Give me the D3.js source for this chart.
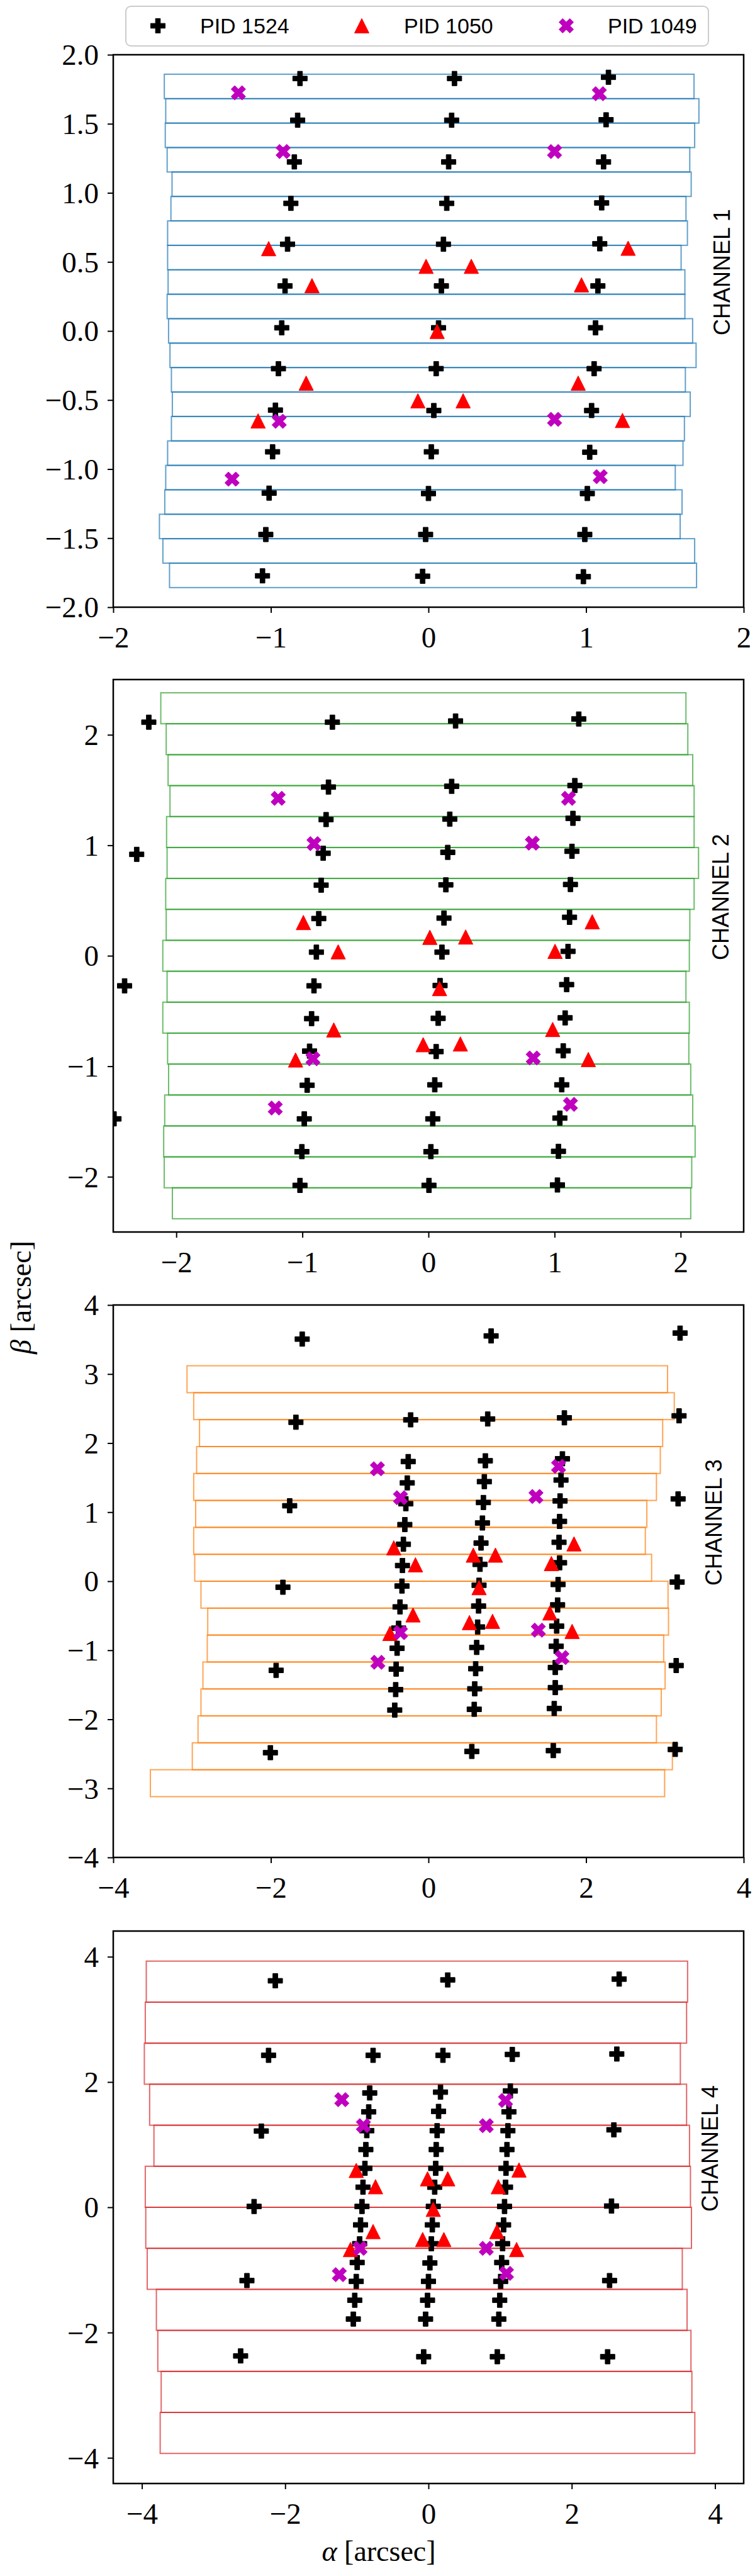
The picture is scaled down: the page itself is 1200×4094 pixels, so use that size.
<!DOCTYPE html>
<html><head><meta charset="utf-8">
<script src="https://cdn.jsdelivr.net/npm/d3@7"></script>
<style>body{margin:0;background:#fff}</style>
</head><body>
<svg id="fig" width="1200" height="4094" xmlns="http://www.w3.org/2000/svg"></svg>
<script>
// ---------------- DATA ----------------
const channelNames = ["CHANNEL 1", "CHANNEL 2", "CHANNEL 3", "CHANNEL 4"];
const legendLabels = ["PID 1524", "PID 1050", "PID 1049"];
const sliceColors = ["#1f77b4", "#2ca02c", "#ff7f0e", "#d62728"];

const xDomains = [[-2, 2], [-2.5, 2.5], [-4, 4], [-4.4, 4.4]];
const yDomains = [[-2, 2], [-2.5, 2.5], [-4, 4], [-4.41, 4.41]];
const xTicks1 = [-2, -1, 0, 1, 2];
const yTicks1 = [-2, -1.5, -1, -0.5, 0, 0.5, 1, 1.5, 2];
const xTicks2 = [-2, -1, 0, 1, 2];
const yTicks2 = [-2, -1, 0, 1, 2];
const xTicks3 = [-4, -2, 0, 2, 4];
const yTicks3 = [-4, -3, -2, -1, 0, 1, 2, 3, 4];
const xTicks4 = [-4, -2, 0, 2, 4];
const yTicks4 = [-4, -2, 0, 2, 4];

// slice boundaries (beta, arcsec), top to bottom
const ch1Edges = [1.859, 1.682, 1.505, 1.328, 1.151, 0.974, 0.797, 0.620, 0.443, 0.266, 0.089, -0.088, -0.265, -0.442, -0.619, -0.796, -0.973, -1.150, -1.327, -1.504, -1.681, -1.858];
const ch2Edges = [2.38, 2.10, 1.82, 1.54, 1.26, 0.98, 0.70, 0.42, 0.14, -0.14, -0.42, -0.70, -0.98, -1.26, -1.54, -1.82, -2.10, -2.38];
const ch3Edges = [3.12, 2.73, 2.34, 1.95, 1.56, 1.17, 0.78, 0.39, 0, -0.39, -0.78, -1.17, -1.56, -1.95, -2.34, -2.73, -3.12];
const ch4Edges = [3.93, 3.275, 2.62, 1.965, 1.31, 0.655, 0, -0.655, -1.31, -1.965, -2.62, -3.275, -3.93];

// slice alpha extents (left / right), top to bottom
const ch1Left = [-1.676, -1.667, -1.670, -1.658, -1.627, -1.634, -1.655, -1.655, -1.652, -1.658, -1.649, -1.640, -1.631, -1.625, -1.631, -1.655, -1.667, -1.673, -1.707, -1.685, -1.643];
const ch1Right = [1.685, 1.716, 1.689, 1.658, 1.667, 1.634, 1.643, 1.603, 1.627, 1.627, 1.676, 1.698, 1.630, 1.661, 1.624, 1.615, 1.566, 1.609, 1.597, 1.689, 1.701];
const ch2Left = [-2.123, -2.080, -2.065, -2.050, -2.077, -2.073, -2.084, -2.080, -2.107, -2.073, -2.107, -2.069, -2.061, -2.092, -2.100, -2.096, -2.031];
const ch2Right = [2.042, 2.057, 2.096, 2.107, 2.107, 2.142, 2.107, 2.073, 2.069, 2.042, 2.069, 2.065, 2.080, 2.096, 2.115, 2.088, 2.080];
const ch3Left = [-3.064, -2.979, -2.905, -2.942, -2.979, -2.954, -2.979, -2.966, -2.887, -2.801, -2.807, -2.862, -2.887, -2.924, -2.997, -3.529];
const ch3Right = [3.034, 3.119, 2.972, 2.942, 2.893, 2.771, 2.752, 2.832, 3.040, 3.046, 2.985, 3.003, 2.954, 2.893, 3.095, 2.997];
const ch4Left = [-3.939, -3.953, -3.966, -3.892, -3.832, -3.953, -3.946, -3.926, -3.798, -3.778, -3.731, -3.745];
const ch4Right = [3.617, 3.603, 3.516, 3.603, 3.644, 3.657, 3.671, 3.543, 3.610, 3.664, 3.677, 3.718];

// PID 1524 pointings
const ch1P1524Alpha = [-0.815, 0.165, 1.142, -0.830, 0.147, 1.127, -0.851, 0.128, 1.111, -0.873, 0.116, 1.099, -0.894, 0.095, 1.087, -0.910, 0.082, 1.075, -0.931, 0.064, 1.060, -0.952, 0.049, 1.051, -0.971, 0.034, 1.035, -0.989, 0.018, 1.023, -1.011, 0.000, 1.008, -1.032, -0.018, 0.992, -1.053, -0.037, 0.983];
const ch1P1524Beta = [1.828, 1.828, 1.837, 1.526, 1.526, 1.529, 1.224, 1.224, 1.224, 0.924, 0.924, 0.927, 0.628, 0.628, 0.631, 0.326, 0.326, 0.326, 0.023, 0.023, 0.023, -0.273, -0.273, -0.273, -0.573, -0.576, -0.576, -0.875, -0.875, -0.878, -1.174, -1.177, -1.177, -1.474, -1.474, -1.474, -1.773, -1.776, -1.779];
const ch2P1524Alpha = [-2.218, -2.314, -2.410, -2.494, -0.762, 0.215, 1.192, -0.793, 0.184, 1.161, -0.812, 0.169, 1.146, -0.835, 0.153, 1.138, -0.851, 0.138, 1.126, -0.870, 0.123, 1.119, -0.889, 0.107, 1.107, -0.908, 0.092, 1.096, -0.927, 0.077, 1.084, -0.943, 0.061, 1.069, -0.962, 0.050, 1.057, -0.985, 0.034, 1.042, -1.004, 0.019, 1.031, -1.019, 0.004, 1.023];
const ch2P1524Beta = [2.114, 0.918, -0.272, -1.476, 2.114, 2.125, 2.143, 1.527, 1.534, 1.541, 1.233, 1.237, 1.244, 0.928, 0.936, 0.946, 0.639, 0.642, 0.645, 0.337, 0.341, 0.348, 0.033, 0.033, 0.040, -0.272, -0.269, -0.261, -0.569, -0.566, -0.562, -0.863, -0.867, -0.860, -1.172, -1.168, -1.168, -1.476, -1.476, -1.469, -1.773, -1.773, -1.770, -2.078, -2.078, -2.075];
const ch3P1524Alpha = [-1.602, 0.795, 3.193, -1.682, -0.226, 0.752, 1.725, 3.180, -0.257, 0.722, 1.700, -0.269, 0.709, 1.682, -0.287, 0.697, 1.670, -0.300, 0.685, 1.664, -0.318, 0.667, 1.657, -0.330, 0.654, 1.664, -0.336, 0.642, 1.645, -0.361, 0.636, 1.639, -0.379, 0.624, 1.627, -0.398, 0.612, 1.621, -0.410, 0.599, 1.609, -0.416, 0.587, 1.609, -0.428, 0.581, 1.596, -1.761, -1.847, -1.933, -2.006, 0.550, 1.584, 3.131, 3.168, 3.156, 3.144];
const ch3P1524Beta = [3.506, 3.552, 3.593, 2.302, 2.337, 2.349, 2.366, 2.395, 1.733, 1.744, 1.773, 1.424, 1.442, 1.465, 1.122, 1.140, 1.163, 0.820, 0.843, 0.866, 0.535, 0.552, 0.564, 0.227, 0.244, 0.267, -0.070, -0.058, -0.047, -0.372, -0.360, -0.343, -0.680, -0.663, -0.651, -0.971, -0.959, -0.942, -1.273, -1.267, -1.250, -1.570, -1.558, -1.541, -1.866, -1.855, -1.843, 1.093, -0.087, -1.291, -2.483, -2.465, -2.453, -2.436, 1.192, -0.012, -1.221];
const ch4P1524Alpha = [-2.138, 0.269, 2.662, -2.232, -0.773, 0.202, 1.170, 2.629, -0.820, 0.168, 1.143, -0.834, 0.141, 1.123, -0.861, 0.121, 1.109, -0.874, 0.108, 1.096, -0.887, 0.101, 1.082, -0.914, 0.087, 1.076, -0.928, 0.067, 1.062, -0.948, 0.054, 1.049, -0.961, 0.040, 1.035, -0.995, 0.020, 1.022, -1.008, 0.000, 1.008, -1.029, -0.013, 0.995, -1.049, -0.040, 0.982, -2.333, 2.588, -2.434, 2.555, -2.534, 2.528, -2.622, -0.067, 0.961, 2.501];
const ch4P1524Beta = [3.616, 3.630, 3.643, 2.426, 2.426, 2.426, 2.440, 2.447, 1.825, 1.838, 1.858, 1.524, 1.531, 1.524, 1.223, 1.223, 1.223, 0.922, 0.922, 0.922, 0.622, 0.622, 0.622, 0.321, 0.321, 0.321, 0.013, 0.013, 0.013, -0.281, -0.281, -0.281, -0.582, -0.582, -0.582, -0.882, -0.889, -0.882, -1.183, -1.183, -1.183, -1.484, -1.484, -1.484, -1.785, -1.785, -1.785, 1.217, 1.237, 0.013, 0.020, -1.170, -1.170, -2.373, -2.386, -2.386, -2.386];

// PID 1050 pointings
const ch1P1050Alpha = [-1.014, -0.015, 0.272, 1.267, -0.739, 0.971, 0.055, -0.776, 0.950, -0.067, 0.220, -1.081, 1.231];
const ch1P1050Beta = [0.596, 0.468, 0.468, 0.599, 0.328, 0.334, -0.003, -0.378, -0.378, -0.506, -0.506, -0.651, -0.648];
const ch2P1050Alpha = [-0.992, 0.011, 0.295, 1.299, -0.716, 1.004, 0.088, -0.751, 0.985, -0.042, 0.253, -1.054, 1.268];
const ch2P1050Beta = [0.301, 0.167, 0.170, 0.308, 0.036, 0.040, -0.297, -0.671, -0.667, -0.805, -0.798, -0.943, -0.939];
const ch3P1050Alpha = [-0.440, -0.165, 0.569, 0.850, 1.560, 1.847, 0.642, -0.196, 1.541, 0.520, 0.813, -0.489, 1.823];
const ch3P1050Beta = [0.483, 0.238, 0.378, 0.378, 0.256, 0.541, -0.093, -0.488, -0.459, -0.599, -0.581, -0.756, -0.727];
const ch4P1050Alpha = [-1.008, -0.739, -0.013, 0.269, 0.975, 1.264, 0.067, -0.773, 0.955, -0.081, 0.215, -1.089, 1.230];
const ch4P1050Beta = [0.588, 0.328, 0.455, 0.455, 0.328, 0.595, -0.033, -0.388, -0.388, -0.515, -0.515, -0.675, -0.675];

// PID 1049 pointings
const ch1P1049Alpha = [-1.206, 1.084, -0.922, 0.800, -0.947, 0.800, -1.246, 1.090];
const ch1P1049Beta = [1.724, 1.718, 1.299, 1.299, -0.654, -0.640, -1.073, -1.055];
const ch2P1049Alpha = [-1.192, 1.111, -0.908, 0.824, -0.916, 0.831, -1.215, 1.126];
const ch2P1049Beta = [1.425, 1.425, 1.015, 1.019, -0.932, -0.925, -1.378, -1.345];
const ch3P1049Alpha = [-0.648, 1.651, -0.355, 1.364, -0.355, 1.394, -0.642, 1.694];
const ch3P1049Beta = [1.628, 1.663, 1.209, 1.227, -0.744, -0.709, -1.174, -1.105];
const ch4P1049Alpha = [-1.210, 1.076, -0.908, 0.807, -0.955, 0.807, -1.244, 1.089];
const ch4P1049Beta = [1.718, 1.705, 1.303, 1.303, -0.655, -0.655, -1.076, -1.056];

// ---------------- ASSEMBLY ----------------
const zip = (a, b) => a.map((v, i) => ({a: v, b: b[i]}));
const panels = [
  {name: channelNames[0], color: sliceColors[0], xd: xDomains[0], yd: yDomains[0], xt: xTicks1, yt: yTicks1, yfmt: d3.format(".1f"),
   edges: ch1Edges, left: ch1Left, right: ch1Right,
   p1524: zip(ch1P1524Alpha, ch1P1524Beta), p1050: zip(ch1P1050Alpha, ch1P1050Beta), p1049: zip(ch1P1049Alpha, ch1P1049Beta), labDx: 35},
  {name: channelNames[1], color: sliceColors[1], xd: xDomains[1], yd: yDomains[1], xt: xTicks2, yt: yTicks2, yfmt: d3.format("d"),
   edges: ch2Edges, left: ch2Left, right: ch2Right,
   p1524: zip(ch2P1524Alpha, ch2P1524Beta), p1050: zip(ch2P1050Alpha, ch2P1050Beta), p1049: zip(ch2P1049Alpha, ch2P1049Beta), labDx: 37},
  {name: channelNames[2], color: sliceColors[2], xd: xDomains[2], yd: yDomains[2], xt: xTicks3, yt: yTicks3, yfmt: d3.format("d"),
   edges: ch3Edges, left: ch3Left, right: ch3Right,
   p1524: zip(ch3P1524Alpha, ch3P1524Beta), p1050: zip(ch3P1050Alpha, ch3P1050Beta), p1049: zip(ch3P1049Alpha, ch3P1049Beta), labDx: 48},
  {name: channelNames[3], color: sliceColors[3], xd: xDomains[3], yd: yDomains[3], xt: xTicks4, yt: yTicks4, yfmt: d3.format("d"),
   edges: ch4Edges, left: ch4Left, right: ch4Right,
   p1524: zip(ch4P1524Alpha, ch4P1524Beta), p1050: zip(ch4P1050Alpha, ch4P1050Beta), p1049: zip(ch4P1049Alpha, ch4P1049Beta), labDx: 54}
];

// ---------------- MARKERS ----------------
const symPlus = {draw(ctx, size) {
  const a = Math.sqrt(size) / 2, t = a / 3;
  ctx.moveTo(-t, -a); ctx.lineTo(t, -a); ctx.lineTo(t, -t); ctx.lineTo(a, -t); ctx.lineTo(a, t);
  ctx.lineTo(t, t); ctx.lineTo(t, a); ctx.lineTo(-t, a); ctx.lineTo(-t, t); ctx.lineTo(-a, t);
  ctx.lineTo(-a, -t); ctx.lineTo(-t, -t); ctx.closePath();
}};
const symX = {draw(ctx, size) {
  const s = Math.sqrt(size) / 4;
  const v = [[-1,-2],[0,-1],[1,-2],[2,-1],[1,0],[2,1],[1,2],[0,1],[-1,2],[-2,1],[-1,0],[-2,-1]];
  v.forEach((p, i) => i ? ctx.lineTo(p[0]*s, p[1]*s) : ctx.moveTo(p[0]*s, p[1]*s));
  ctx.closePath();
}};
const symTri = {draw(ctx, size) {
  const a = Math.sqrt(size) / 2;
  ctx.moveTo(0, -a); ctx.lineTo(a, a); ctx.lineTo(-a, a); ctx.closePath();
}};
const MS = 23 * 23;
const pathPlus = d3.symbol().type(symPlus).size(MS)();
const pathX = d3.symbol().type(symX).size(MS)();
const pathTri = d3.symbol().type(symTri).size(MS)();

// ---------------- DRAW ----------------
const svg = d3.select("#fig");
svg.append("rect").attr("width", 1200).attr("height", 4094).attr("fill", "#fff");

const serif = "'Liberation Serif', 'DejaVu Serif', serif";
const sans = "'Liberation Sans', 'DejaVu Sans', sans-serif";
const minus = s => s.replace(/-/g, "\u2212");

const panelTop = [87, 1080, 2074, 3069];
const PL = 180, PW = 1002, PH = 878;

panels.forEach((p, i) => {
  const top = panelTop[i];
  const x = d3.scaleLinear().domain(p.xd).range([PL, PL + PW]);
  const y = d3.scaleLinear().domain(p.yd).range([top + PH, top]);
  const g = svg.append("g");
  const clipId = "clip" + i;
  svg.append("clipPath").attr("id", clipId).append("rect")
    .attr("x", PL).attr("y", top).attr("width", PW).attr("height", PH);
  const plot = g.append("g").attr("clip-path", `url(#${clipId})`);

  // slices
  const slices = p.left.map((l, k) => ({l, r: p.right[k], hi: p.edges[k], lo: p.edges[k + 1]}));
  plot.selectAll("rect.slice").data(slices).enter().append("rect")
    .attr("class", "slice")
    .attr("x", d => x(d.l)).attr("y", d => y(d.hi))
    .attr("width", d => x(d.r) - x(d.l)).attr("height", d => y(d.lo) - y(d.hi))
    .attr("fill", "none").attr("stroke", p.color).attr("stroke-opacity", 0.7).attr("stroke-width", 2);

  // markers
  plot.selectAll("path.p1524").data(p.p1524).enter().append("path")
    .attr("d", pathPlus).attr("transform", d => `translate(${x(d.a)},${y(d.b)})`)
    .attr("fill", "#000").attr("stroke", "#000").attr("stroke-width", 1);
  plot.selectAll("path.p1050").data(p.p1050).enter().append("path")
    .attr("d", pathTri).attr("transform", d => `translate(${x(d.a)},${y(d.b)})`)
    .attr("fill", "#ff0000").attr("stroke", "#ff0000").attr("stroke-width", 1);
  plot.selectAll("path.p1049").data(p.p1049).enter().append("path")
    .attr("d", pathX).attr("transform", d => `translate(${x(d.a)},${y(d.b)})`)
    .attr("fill", "#bf00bf").attr("stroke", "#bf00bf").attr("stroke-width", 1);

  // axes
  const xAxis = d3.axisBottom(x).tickValues(p.xt).tickSize(9).tickPadding(10).tickFormat(d => minus(d3.format("d")(d)));
  const yAxis = d3.axisLeft(y).tickValues(p.yt).tickSize(9).tickPadding(14).tickFormat(d => minus(p.yfmt(d)));
  const gx = g.append("g").attr("transform", `translate(0,${top + PH})`).call(xAxis);
  const gy = g.append("g").attr("transform", `translate(${PL},0)`).call(yAxis);
  [gx, gy].forEach(ax => {
    ax.select(".domain").remove();
    ax.selectAll(".tick line").attr("stroke", "#000").attr("stroke-width", 2);
    ax.selectAll(".tick text").attr("fill", "#000").style("font-family", serif).style("font-size", "47px");
  });
  gx.selectAll(".tick text").attr("dy", "0.95em");
  gy.selectAll(".tick text").attr("dy", "0.34em");

  // frame
  g.append("rect").attr("x", PL).attr("y", top).attr("width", PW).attr("height", PH)
    .attr("fill", "none").attr("stroke", "#000").attr("stroke-width", 2.5);

  // channel label
  const lx = PL + PW - p.labDx + 13, ly = y(0) + 7;
  g.append("text").attr("transform", `translate(${lx},${ly}) rotate(-90)`)
    .attr("text-anchor", "start").style("font-family", sans).style("font-size", "36px")
    .attr("fill", "#000").text(p.name);
});

// axis labels
const yl = svg.append("text").attr("transform", "translate(49,2062) rotate(-90)")
  .attr("text-anchor", "middle").style("font-family", serif).style("font-size", "46px").attr("fill", "#000");
yl.append("tspan").style("font-style", "italic").text("β");
yl.append("tspan").text(" [arcsec]");
const xl = svg.append("text").attr("x", 602).attr("y", 4070)
  .attr("text-anchor", "middle").style("font-family", serif).style("font-size", "46px").attr("fill", "#000");
xl.append("tspan").style("font-style", "italic").text("α");
xl.append("tspan").text(" [arcsec]");

// legend
const lg = svg.append("g");
lg.append("rect").attr("x", 200).attr("y", 10).attr("width", 926).attr("height", 63).attr("rx", 8)
  .attr("fill", "#fff").attr("stroke", "#cccccc").attr("stroke-width", 2);
const legItems = [
  {label: legendLabels[0], path: pathPlus, color: "#000", mx: 251, tx: 318},
  {label: legendLabels[1], path: pathTri, color: "#ff0000", mx: 575, tx: 642},
  {label: legendLabels[2], path: pathX, color: "#bf00bf", mx: 900, tx: 966}
];
legItems.forEach(it => {
  lg.append("path").attr("d", it.path).attr("transform", `translate(${it.mx},41)`)
    .attr("fill", it.color).attr("stroke", it.color).attr("stroke-width", 1);
  lg.append("text").attr("x", it.tx).attr("y", 53).style("font-family", sans).style("font-size", "34px")
    .attr("fill", "#000").text(it.label);
});
</script>
</body></html>
